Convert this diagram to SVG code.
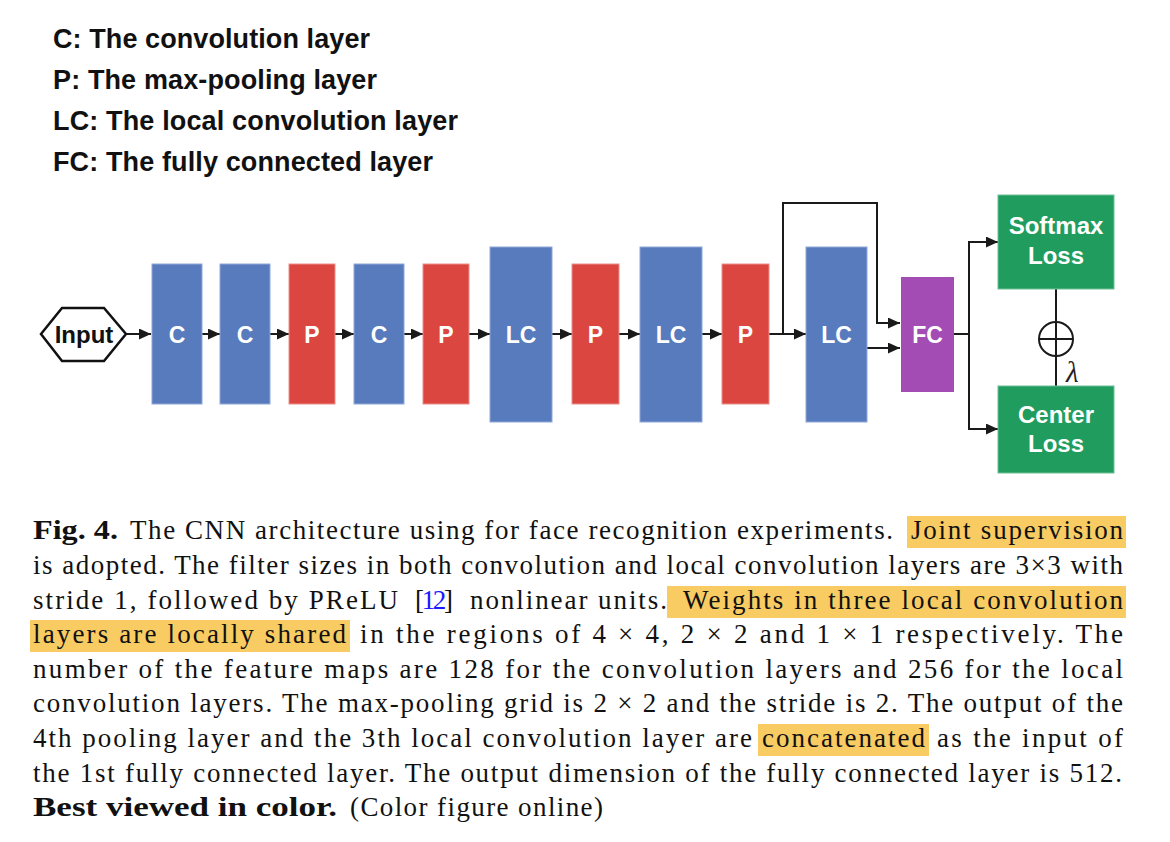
<svg xmlns="http://www.w3.org/2000/svg" width="1170" height="842" viewBox="0 0 1170 842">
<style>
.leg{font-family:"Liberation Sans",Arial,sans-serif;font-weight:bold;font-size:27px;fill:#111}
.lbl{font-family:"Liberation Sans",Arial,sans-serif;font-weight:bold;font-size:23px;fill:#fff;text-anchor:middle}
.lbl2{font-family:"Liberation Sans",Arial,sans-serif;font-weight:bold;font-size:24px;fill:#fff;text-anchor:middle}
.blue{fill:#587BBD;stroke:#8fa8d6;stroke-width:1}
.red{fill:#DB4740;stroke:#ec8f8a;stroke-width:1}
.purple{fill:#A34DB4}
.green{fill:#209D5E;stroke:#6cc096;stroke-width:1}
.conn{fill:none;stroke:#1a1a1a;stroke-width:2}
.cap{font-family:"Liberation Serif","Times New Roman",serif;font-size:27px;fill:#111}
.b{font-weight:bold}
.hl{fill:#F8CB63}
</style>
<defs>
<marker id="ah" markerWidth="12" markerHeight="11" refX="12" refY="5.5" orient="auto" markerUnits="userSpaceOnUse">
<path d="M0,0 L12,5.5 L0,11 z" fill="#1a1a1a"/>
</marker>
</defs>
<rect width="1170" height="842" fill="#fff"/>
<g id="legend">
<text class="leg" x="53" y="48" textLength="317" lengthAdjust="spacing">C: The convolution layer</text>
<text class="leg" x="53" y="89" textLength="324" lengthAdjust="spacing">P: The max-pooling layer</text>
<text class="leg" x="53" y="130" textLength="405" lengthAdjust="spacing">LC: The local convolution layer</text>
<text class="leg" x="53" y="171" textLength="380" lengthAdjust="spacing">FC: The fully connected layer</text>
</g>
<g id="connectors">
<line class="conn" x1="126" y1="334" x2="151" y2="334" marker-end="url(#ah)"/>
<line class="conn" x1="202" y1="334" x2="220" y2="334" marker-end="url(#ah)"/>
<line class="conn" x1="270" y1="334" x2="289" y2="334" marker-end="url(#ah)"/>
<line class="conn" x1="335" y1="334" x2="354" y2="334" marker-end="url(#ah)"/>
<line class="conn" x1="404" y1="334" x2="423" y2="334" marker-end="url(#ah)"/>
<line class="conn" x1="469" y1="334" x2="490" y2="334" marker-end="url(#ah)"/>
<line class="conn" x1="552" y1="334" x2="572" y2="334" marker-end="url(#ah)"/>
<line class="conn" x1="619" y1="334" x2="640" y2="334" marker-end="url(#ah)"/>
<line class="conn" x1="702" y1="334" x2="722" y2="334" marker-end="url(#ah)"/>
<line class="conn" x1="769" y1="334" x2="806" y2="334" marker-end="url(#ah)"/>
<polyline class="conn" points="783,334 783,203 877,203 877,323 900,323" marker-end="url(#ah)"/>
<line class="conn" x1="867" y1="348" x2="900" y2="348" marker-end="url(#ah)"/>
<polyline class="conn" points="954,334 969,334"/>
<polyline class="conn" points="998,242 969,242 969,429 998,429"/>
<line class="conn" x1="969" y1="242" x2="998" y2="242" marker-end="url(#ah)"/>
<line class="conn" x1="969" y1="429" x2="998" y2="429" marker-end="url(#ah)"/>
<line class="conn" x1="1056" y1="289" x2="1056" y2="386"/>
</g>
<g id="input">
<polygon points="41,334 62,308 104,308 126,334 104,361 62,361" fill="#fff" stroke="#111" stroke-width="2.5"/>
<text x="84" y="343" font-family="Liberation Sans,Arial,sans-serif" font-weight="bold" font-size="24" fill="#111" text-anchor="middle">Input</text>
</g>
<g id="c1"><rect class="blue" x="152" y="264" width="50" height="140"/><text class="lbl" x="177" y="343">C</text></g>
<g id="c2"><rect class="blue" x="220" y="264" width="50" height="140"/><text class="lbl" x="245" y="343">C</text></g>
<g id="p1"><rect class="red" x="289" y="264" width="46" height="140"/><text class="lbl" x="312" y="343">P</text></g>
<g id="c3"><rect class="blue" x="354" y="264" width="50" height="140"/><text class="lbl" x="379" y="343">C</text></g>
<g id="p2"><rect class="red" x="423" y="264" width="46" height="140"/><text class="lbl" x="446" y="343">P</text></g>
<g id="lc1"><rect class="blue" x="490" y="247" width="62" height="175"/><text class="lbl" x="521" y="343">LC</text></g>
<g id="p3"><rect class="red" x="572" y="264" width="47" height="140"/><text class="lbl" x="595.5" y="343">P</text></g>
<g id="lc2"><rect class="blue" x="640" y="247" width="62" height="175"/><text class="lbl" x="671" y="343">LC</text></g>
<g id="p4"><rect class="red" x="722" y="264" width="47" height="140"/><text class="lbl" x="745.5" y="343">P</text></g>
<g id="lc3"><rect class="blue" x="806" y="247" width="61" height="175"/><text class="lbl" x="836.5" y="343">LC</text></g>
<g id="fc"><rect class="purple" x="901" y="277" width="53" height="115"/><text class="lbl" x="927.5" y="343">FC</text></g>
<g id="softmax"><rect class="green" x="998" y="195" width="116" height="94"/><text class="lbl2" x="1056" y="234">Softmax</text><text class="lbl2" x="1056" y="264">Loss</text></g>
<g id="center"><rect class="green" x="998" y="386" width="116" height="87"/><text class="lbl2" x="1056" y="423">Center</text><text class="lbl2" x="1056" y="452">Loss</text></g>
<g id="sum">
<circle cx="1056" cy="339" r="17" fill="#fff" stroke="#1a1a1a" stroke-width="2"/>
<line x1="1039" y1="339" x2="1073" y2="339" stroke="#1a1a1a" stroke-width="2"/>
<line x1="1056" y1="322" x2="1056" y2="356" stroke="#1a1a1a" stroke-width="2"/>
<text x="1066" y="382" font-family="Liberation Serif,serif" font-style="italic" font-size="29" fill="#222">λ</text>
</g>
<g id="caption">
<rect class="hl" x="907" y="516" width="219" height="32"/>
<rect class="hl" x="667" y="586" width="459" height="32"/>
<rect class="hl" x="30" y="620" width="320" height="32"/>
<rect class="hl" x="758" y="724" width="171" height="32"/>
<text class="cap b" x="33" y="539" textLength="85" lengthAdjust="spacingAndGlyphs">Fig. 4.</text>
<text class="cap" x="130" y="539" textLength="763" lengthAdjust="spacing">The CNN architecture using for face recognition experiments.</text>
<text class="cap" x="911" y="539" textLength="212" lengthAdjust="spacing">Joint supervision</text>
<text class="cap" x="33" y="574" textLength="1090" lengthAdjust="spacing">is adopted. The filter sizes in both convolution and local convolution layers are 3×3 with</text>
<text class="cap" x="33" y="609" textLength="365" lengthAdjust="spacing">stride 1, followed by PReLU</text>
<text class="cap" x="415" y="609" textLength="38" lengthAdjust="spacing">[<tspan fill="#1a1aff">12</tspan>]</text>
<text class="cap" x="470" y="609" textLength="197" lengthAdjust="spacing">nonlinear units.</text>
<text class="cap" x="683" y="609" textLength="440" lengthAdjust="spacing">Weights in three local convolution</text>
<text class="cap" x="33" y="643" textLength="313" lengthAdjust="spacing">layers are locally shared</text>
<text class="cap" x="360" y="643" textLength="763" lengthAdjust="spacing">in the regions of 4 × 4, 2 × 2 and 1 × 1 respectively. The</text>
<text class="cap" x="33" y="678" textLength="1090" lengthAdjust="spacing">number of the feature maps are 128 for the convolution layers and 256 for the local</text>
<text class="cap" x="33" y="712" textLength="1090" lengthAdjust="spacing">convolution layers. The max-pooling grid is 2 × 2 and the stride is 2. The output of the</text>
<text class="cap" x="33" y="747" textLength="719" lengthAdjust="spacing">4th pooling layer and the 3th local convolution layer are</text>
<text class="cap" x="762" y="747" textLength="163" lengthAdjust="spacing">concatenated</text>
<text class="cap" x="937" y="747" textLength="186" lengthAdjust="spacing">as the input of</text>
<text class="cap" x="33" y="782" textLength="1089" lengthAdjust="spacing">the 1st fully connected layer. The output dimension of the fully connected layer is 512.</text>
<text class="cap b" x="33" y="816" textLength="304" lengthAdjust="spacingAndGlyphs">Best viewed in color.</text>
<text class="cap" x="350" y="816" textLength="253" lengthAdjust="spacing">(Color figure online)</text>
</g>
</svg>
